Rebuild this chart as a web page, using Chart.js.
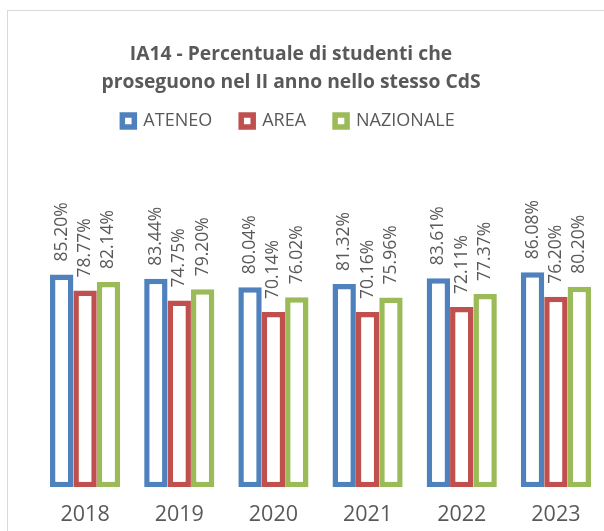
<!DOCTYPE html>
<html>
<head>
<meta charset="utf-8">
<script src="https://cdn.jsdelivr.net/npm/chart.js@4.4.1/dist/chart.umd.min.js"></script>
<style>
  html, body { margin: 0; padding: 0; background: #fff; overflow: hidden; }
  #frame { position: absolute; left: 7px; top: 10px; width: 640px; height: 560px; border: 1px solid #d9d9d9; }
  #chart { position: absolute; left: 8px; top: 11px; }
</style>
</head>
<body>
<div id="frame"></div>
<canvas id="chart" width="596" height="536"></canvas>
<script>
const years = ['2018', '2019', '2020', '2021', '2022', '2023'];
const ateneo = [85.20, 83.44, 80.04, 81.32, 83.61, 86.08];
const area = [78.77, 74.75, 70.14, 70.16, 72.11, 76.20];
const nazionale = [82.14, 79.20, 76.02, 75.96, 77.37, 80.20];

const gray = '#595959';

// rotated value labels over each bar
const barLabels = {
  id: 'barLabels',
  afterDatasetsDraw(chart) {
    const ctx = chart.ctx;
    ctx.save();
    ctx.font = '17.5px "Open Sans"';
    ctx.fillStyle = gray;
    ctx.textAlign = 'left';
    ctx.textBaseline = 'middle';
    chart.data.datasets.forEach((ds, i) => {
      chart.getDatasetMeta(i).data.forEach((bar, j) => {
        ctx.save();
        ctx.translate(bar.x, bar.y - 13);
        ctx.rotate(-Math.PI / 2);
        ctx.fillText(ds.data[j].toFixed(2) + '%', 0, 0);
        ctx.restore();
      });
    });
    ctx.restore();
  }
};

// title and legend sit a bit left of the plot centre in the original
const recentre = {
  id: 'recentre',
  afterLayout(chart) {
    if (chart.titleBlock) {
      chart.titleBlock.left = 0;
      chart.titleBlock.right = 566;
      chart.titleBlock.width = 566;
    }
    if (chart.legend) {
      chart.legend.left = 0;
      chart.legend.right = 561;
      chart.legend.width = 561;
    }
  }
};

const ctx = document.getElementById('chart').getContext('2d');
new Chart(ctx, {
  type: 'bar',
  data: {
    labels: years,
    datasets: [
      { label: 'ATENEO', data: ateneo, borderColor: '#4F81BD' },
      { label: 'AREA', data: area, borderColor: '#C0504D' },
      { label: 'NAZIONALE', data: nazionale, borderColor: '#9BBB59' }
    ]
  },
  options: {
    responsive: false,
    animation: false,
    datasets: {
      bar: {
        backgroundColor: '#ffffff',
        borderWidth: 5.5,
        borderSkipped: false,
        barPercentage: 1,
        categoryPercentage: 0.745
      }
    },
    layout: { padding: { left: 30, right: 1, top: 0, bottom: 4 } },
    plugins: {
      title: {
        display: true,
        text: ['IA14 - Percentuale di studenti che', 'proseguono nel II anno nello stesso CdS'],
        color: gray,
        font: { family: '"Open Sans"', size: 19.3, weight: 'bold', lineHeight: 28 / 19.3 },
        padding: { top: 30, bottom: -14 }
      },
      legend: {
        position: 'top',
        labels: {
          color: gray,
          font: { family: '"Open Sans"', size: 18 },
          boxWidth: 12,
          boxHeight: 12,
          padding: 29
        }
      },
      tooltip: { enabled: false }
    },
    scales: {
      x: {
        grid: { display: false, drawTicks: false },
        border: { display: false },
        ticks: { color: gray, padding: 15, font: { family: '"Open Sans"', size: 21.5 } }
      },
      y: {
        display: false,
        min: 0,
        max: 139
      }
    }
  },
  plugins: [barLabels, recentre]
});
</script>
</body>
</html>
